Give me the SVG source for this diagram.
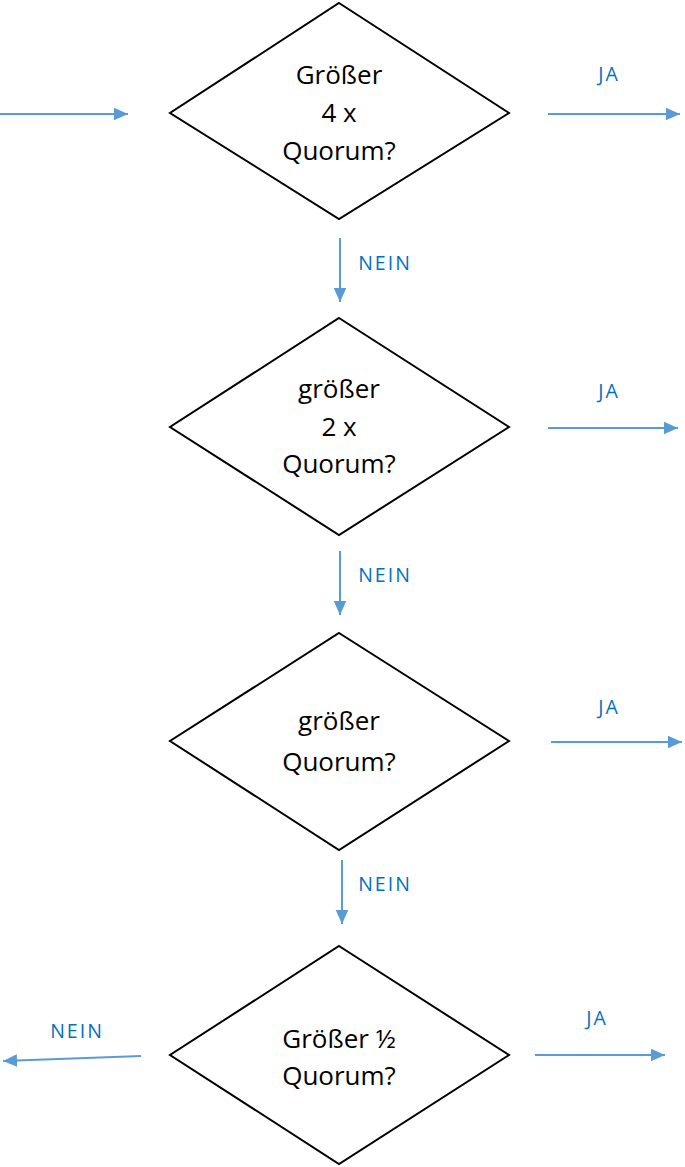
<svg xmlns="http://www.w3.org/2000/svg" width="685" height="1167" viewBox="0 0 685 1167">
<style>
.d{fill:#fff;stroke:#000;stroke-width:2}
.t{font-family:"Open Sans","Liberation Sans",sans-serif;font-size:26px;fill:#000;text-anchor:middle}
.l{font-family:"Open Sans","Liberation Sans",sans-serif;font-size:19.5px;letter-spacing:2px;fill:#0070C0;text-anchor:middle}
.c{stroke:#5B9BD5;stroke-width:2;fill:none;marker-end:url(#b)}
</style>
<defs>
<marker id="b" viewBox="0 0 10 10" refX="10" refY="5" markerWidth="14" markerHeight="14" markerUnits="userSpaceOnUse" orient="auto">
<path d="M0,0.5 L10,5 L0,9.5 z" fill="#5B9BD5"/>
</marker>
</defs>
<g id="connectors">
<line class="c" x1="0" y1="114" x2="128" y2="114"/>
<line class="c" x1="548" y1="114" x2="680" y2="114"/>
<line class="c" x1="340" y1="238" x2="340" y2="302"/>
<line class="c" x1="548" y1="428" x2="678" y2="428"/>
<line class="c" x1="340" y1="551" x2="340" y2="615"/>
<line class="c" x1="551" y1="742" x2="682" y2="742"/>
<line class="c" x1="342" y1="860" x2="342" y2="924"/>
<line class="c" x1="535" y1="1055" x2="665" y2="1055"/>
<line class="c" x1="141" y1="1056" x2="3" y2="1061"/>
<text class="l" x="609" y="81">JA</text>
<text class="l" x="385" y="270">NEIN</text>
<text class="l" x="609" y="398">JA</text>
<text class="l" x="385" y="582">NEIN</text>
<text class="l" x="609" y="714">JA</text>
<text class="l" x="385" y="891">NEIN</text>
<text class="l" x="597" y="1025">JA</text>
<text class="l" x="77" y="1038">NEIN</text>
</g>
<g id="n1">
<polygon class="d" points="339,3 509,113 339,219 170,113"/>
<text class="t" x="339" y="84">Größer</text>
<text class="t" x="339" y="122">4 x</text>
<text class="t" x="339" y="160">Quorum?</text>
</g>
<g id="n2">
<polygon class="d" points="339,318 509,427 339,535 170,427"/>
<text class="t" x="339" y="398">größer</text>
<text class="t" x="339" y="436">2 x</text>
<text class="t" x="339" y="473">Quorum?</text>
</g>
<g id="n3">
<polygon class="d" points="339,633 509,741 339,850 170,741"/>
<text class="t" x="339" y="730">größer</text>
<text class="t" x="339" y="771">Quorum?</text>
</g>
<g id="n4">
<polygon class="d" points="339,946 509,1055 339,1164 170,1055"/>
<text class="t" x="339" y="1048">Größer ½</text>
<text class="t" x="339" y="1085">Quorum?</text>
</g>
</svg>
